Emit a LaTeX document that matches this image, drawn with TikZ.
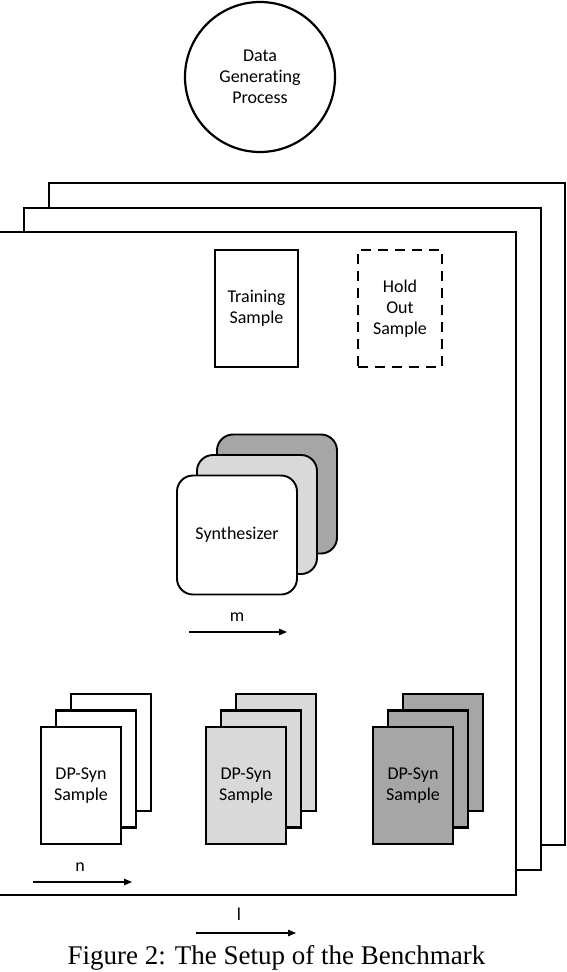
\documentclass[tikz,border=0pt]{standalone}
\usepackage{fontspec}
\setmainfont[Ligatures=NoCommon]{Carlito}
\newfontfamily\capfont{Liberation Serif}
\usetikzlibrary{arrows.meta}
\definecolor{lg}{HTML}{D9D9D9}
\definecolor{dg}{HTML}{A6A6A6}
\begin{document}
\begin{tikzpicture}[x=1pt,y=-1pt,
  txt/.style={font=\fontsize{18}{20.8}\selectfont, align=center},
  frame/.style={draw, line width=1.7pt, fill=white, inner sep=0pt},
  sheet/.style={draw, line width=2.6pt, minimum width=80pt, minimum height=117pt, inner sep=0pt, txt},
  synbox/.style={draw, line width=1.9pt, rounded corners=16pt, minimum width=120pt, minimum height=119pt, inner sep=0pt, txt},
  dimarrow/.style={-{Triangle[length=8pt,width=6.5pt]}, line width=1.1pt},
  lbl/.style={txt, inner sep=0pt}]
\useasboundingbox (0,0) rectangle (566,972);

% data generating process
\node[draw, circle, line width=2.2pt, minimum size=150pt, inner sep=0pt, txt] (dgp) at (260,77) {Data\\Generating\\Process};

% stacked frames
\node[frame, minimum width=516pt, minimum height=662pt] (fr3) at (307,514) {};
\node[frame, minimum width=517pt, minimum height=662pt] (fr2) at (282.5,539) {};
\node[frame, minimum width=518pt, minimum height=663pt] (fr1) at (257,563.5) {};

% samples
\node[draw, line width=2.7pt, minimum width=83pt, minimum height=117pt, inner sep=0pt, txt] (train) at (256.5,308.5) {Training\\Sample};
\node[draw, line width=2.6pt, dash pattern=on 10pt off 7pt, minimum width=84pt, minimum height=117pt, inner sep=0pt, txt] (hold) at (400,308.5) {Hold\\Out\\Sample};

% synthesizers
\node[synbox, fill=dg] (syn3) at (277,494) {};
\node[synbox, fill=lg] (syn2) at (257,514.5) {};
\node[synbox, fill=white] (syn1) at (237,535) {Synthesizer};

\node[lbl] (mlab) at (237,617) {m};
\coordinate (m0) at (189,632);
\coordinate (m1) at (287,632);
\draw[dimarrow] (m0) -- (m1);

% DP-Syn stacks
\node[sheet, fill=white] (a3) at (111,752.5) {};
\node[sheet, fill=white] (a2) at (96,769) {};
\node[sheet, fill=white] (a1) at (81,785.5) {DP-Syn\\Sample};

\node[sheet, fill=lg] (b3) at (276,752.5) {};
\node[sheet, fill=lg] (b2) at (261,769) {};
\node[sheet, fill=lg] (b1) at (246,785.5) {DP-Syn\\Sample};

\node[sheet, fill=dg] (c3) at (443,752.5) {};
\node[sheet, fill=dg] (c2) at (428,769) {};
\node[sheet, fill=dg] (c1) at (413,785.5) {DP-Syn\\Sample};

\node[lbl] (nlab) at (80,867) {n};
\coordinate (n0) at (33,882);
\coordinate (n1) at (132,882);
\draw[dimarrow] (n0) -- (n1);

\node[lbl] (llab) at (239,914) {l};
\coordinate (l0) at (196,933);
\coordinate (l1) at (296,933);
\draw[dimarrow] (l0) -- (l1);

% caption
\node[anchor=base, inner sep=0pt, font=\capfont\fontsize{27}{32}\selectfont] (cap) at (276.5,964.5) {Figure 2: The Setup of the Benchmark};
\end{tikzpicture}
\end{document}
